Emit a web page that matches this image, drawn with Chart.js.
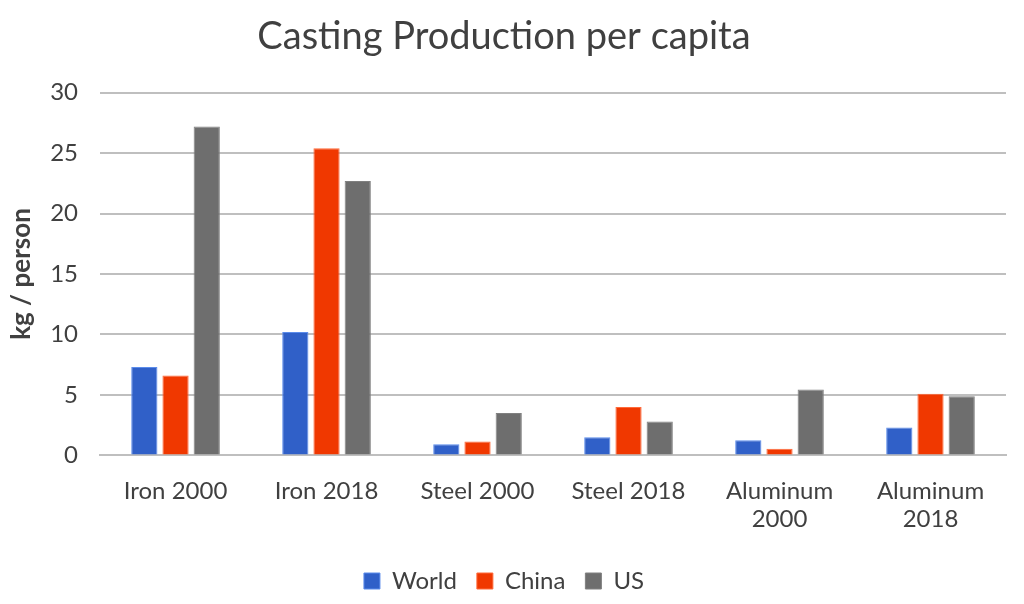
<!DOCTYPE html>
<html>
<head>
<meta charset="utf-8">
<script src="https://cdn.jsdelivr.net/npm/chart.js@4"></script>
<style>
  html, body { margin: 0; padding: 0; background: #fff; }
  #wrap { width: 1024px; height: 604px; }
</style>
</head>
<body>
<div id="wrap"><canvas id="castingChart"></canvas></div>
<script>
const categories = ['Iron 2000', 'Iron 2018', 'Steel 2000', 'Steel 2018', ['Aluminum', '2000'], ['Aluminum', '2018']];
const worldValues = [7.3, 10.2, 0.93, 1.5, 1.25, 2.3];
const chinaValues = [6.6, 25.4, 1.15, 4.0, 0.55, 5.1];
const usValues = [27.2, 22.7, 3.5, 2.8, 5.45, 4.9];
const yTicks = [0, 5, 10, 15, 20, 25, 30];

const textColor = '#404040';
const fontFamily = 'Lato, sans-serif';

const ctx = document.getElementById('castingChart').getContext('2d');
new Chart(ctx, {
    type: 'bar',
    data: {
        labels: categories,
        datasets: [
            { label: 'World', data: worldValues, backgroundColor: '#3060C8', borderColor: '#5B8CEB', borderWidth: 1 },
            { label: 'China', data: chinaValues, backgroundColor: '#F03800', borderColor: '#FF6A3A', borderWidth: 1 },
            { label: 'US', data: usValues, backgroundColor: '#6E6E6E', borderColor: '#808080', borderWidth: 1 }
        ]
    },
    options: {
        responsive: true,
        maintainAspectRatio: false,
        animation: false,
        categoryPercentage: 0.62,
        barPercentage: 0.84,
        layout: { padding: { left: 2, right: 18, top: 10, bottom: 1 } },
        plugins: {
            title: {
                display: true,
                text: 'Casting Production per capita',
                color: textColor,
                font: { family: fontFamily, size: 38, weight: 'normal' },
                padding: { top: 4, bottom: 33 }
            },
            legend: {
                position: 'bottom',
                labels: {
                    color: textColor,
                    font: { family: fontFamily, size: 24 },
                    boxWidth: 16,
                    boxHeight: 16,
                    padding: 20
                }
            },
            tooltip: { enabled: false }
        },
        scales: {
            x: {
                grid: { display: false },
                border: { color: '#BFBFBF', width: 2 },
                afterFit: scale => { scale.height += 2; },
                ticks: {
                    color: textColor,
                    font: { family: fontFamily, size: 24 },
                    maxRotation: 0,
                    padding: 13
                }
            },
            y: {
                min: 0,
                max: 30,
                afterBuildTicks: axis => { axis.ticks = yTicks.map(v => ({ value: v })); },
                afterFit: scale => { scale.width -= 11; },
                grid: { color: '#BFBFBF', lineWidth: 2, drawTicks: false },
                border: { display: false },
                ticks: {
                    color: textColor,
                    font: { family: fontFamily, size: 24 },
                    padding: 22
                },
                title: {
                    display: true,
                    text: 'kg / person',
                    color: textColor,
                    font: { family: fontFamily, size: 26, weight: 'bold' },
                    padding: { bottom: 2 }
                }
            }
        }
    }
});
</script>
</body>
</html>
